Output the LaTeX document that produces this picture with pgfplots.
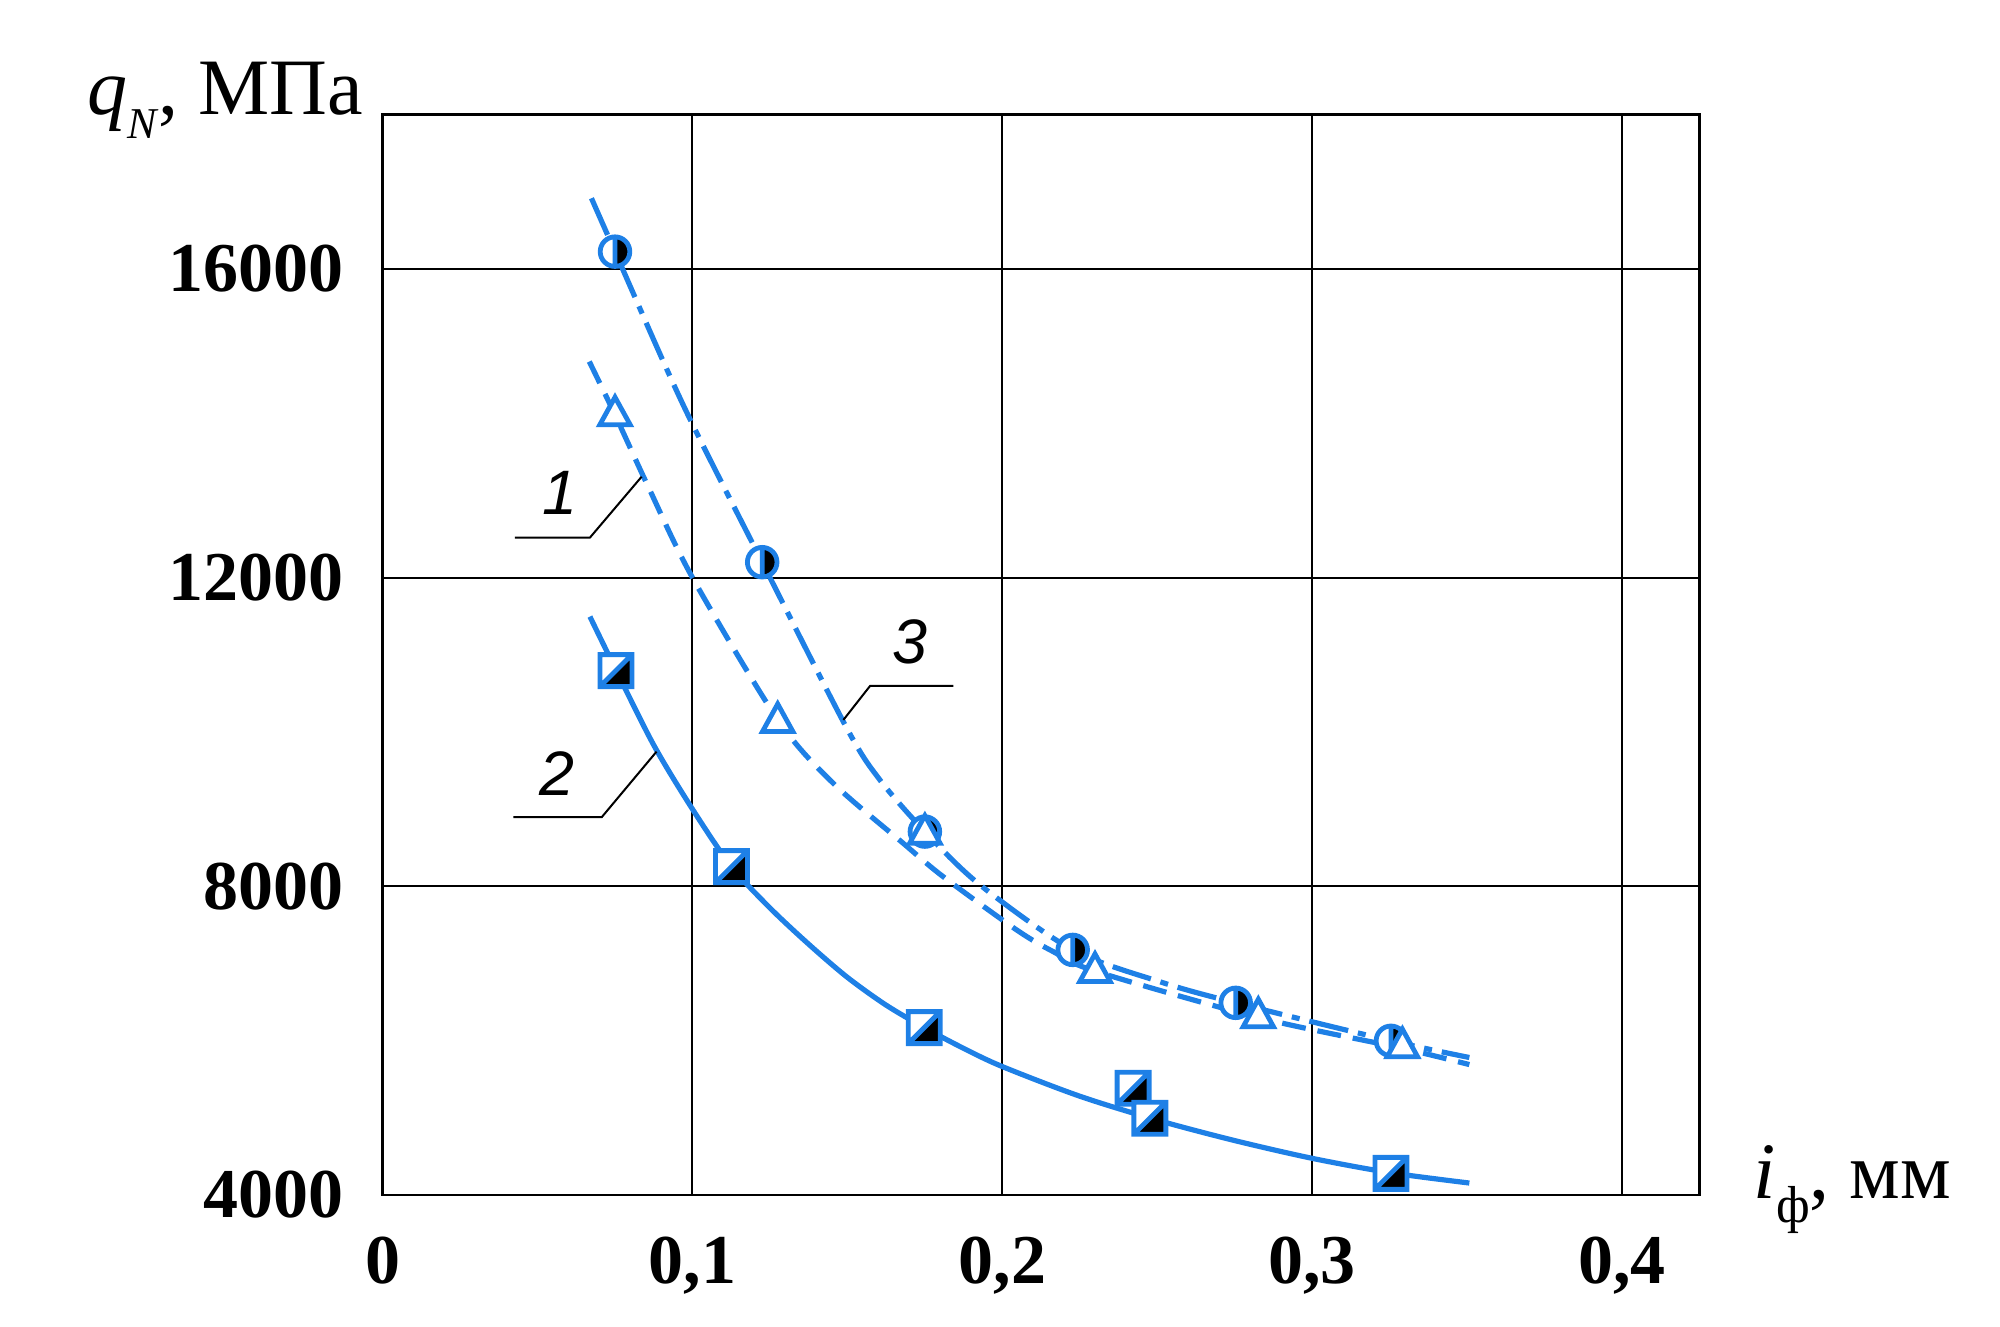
\documentclass[border=0pt]{standalone}
\usepackage{fontspec}
\setmainfont{Liberation Serif}
\newfontfamily\lblfont{Liberation Sans}
\usepackage{pgfplots}
\pgfplotsset{compat=1.18}
\definecolor{cblue}{RGB}{30,128,230}

\pgfdeclareplotmark{hcirc}{%
  \pgfsetfillcolor{white}%
  \pgfpathcircle{\pgfpointorigin}{3.7bp}\pgfusepath{fill}%
  \pgfsetfillcolor{black}%
  \pgfpathmoveto{\pgfpoint{0bp}{3.7bp}}\pgfpatharc{90}{-90}{3.7bp}\pgfpathclose\pgfusepath{fill}%
  \pgfpathcircle{\pgfpointorigin}{3.7bp}%
  \pgfpathmoveto{\pgfpoint{0bp}{3.7bp}}\pgfpathlineto{\pgfpoint{0bp}{-3.7bp}}%
  \pgfusepath{stroke}}
\pgfdeclareplotmark{hsq}{%
  \pgfsetfillcolor{white}%
  \pgfpathrectangle{\pgfpoint{-4bp}{-4bp}}{\pgfpoint{8bp}{8bp}}\pgfusepath{fill}%
  \pgfsetfillcolor{black}%
  \pgfpathmoveto{\pgfpoint{-4bp}{-4bp}}\pgfpathlineto{\pgfpoint{4bp}{-4bp}}%
  \pgfpathlineto{\pgfpoint{4bp}{4bp}}\pgfpathclose\pgfusepath{fill}%
  \pgfpathrectangle{\pgfpoint{-4bp}{-4bp}}{\pgfpoint{8bp}{8bp}}%
  \pgfpathmoveto{\pgfpoint{-4bp}{-4bp}}\pgfpathlineto{\pgfpoint{4bp}{4bp}}%
  \pgfusepath{stroke}}
\pgfdeclareplotmark{otri}{%
  \pgfsetfillcolor{white}%
  \pgfpathmoveto{\pgfpoint{0bp}{4bp}}\pgfpathlineto{\pgfpoint{-3.8bp}{-2.9bp}}%
  \pgfpathlineto{\pgfpoint{3.8bp}{-2.9bp}}\pgfpathclose\pgfusepath{fill,stroke}}

\begin{document}
\begin{tikzpicture}
\path[use as bounding box] (-95.65bp,-33bp) rectangle (404.35bp,298.75bp);
\begin{axis}[at={(0,0)}, anchor=south west, scale only axis,
  width=329.25bp, height=270.1bp,
  xmin=0, xmax=0.425, ymin=4000, ymax=18000,
  scaled x ticks=false, scaled y ticks=false,
  xtick={0,0.1,0.2,0.3,0.4}, xticklabels={0,{0,1},{0,2},{0,3},{0,4}},
  ytick={4000,8000,12000,16000}, yticklabels={4000,8000,12000,16000},
  grid=major, major grid style={black, line width=0.5bp},
  axis line style={black, line width=0.6bp},
  major tick length=0pt,
  ticklabel style={font=\fontsize{17.5bp}{20bp}\selectfont\bfseries, inner sep=0pt},
  xticklabel style={anchor=north, yshift=-10.4bp},
  yticklabel style={anchor=east, xshift=-9.55bp},
  clip=false,
]
% curve 1 (dashed)
\addplot[cblue, line width=1.3bp, smooth, dash pattern=on 6bp off 3bp] coordinates {
 (0.0667,14800) (0.075,14110) (0.0857,13180) (0.1,12000) (0.1275,10160)
 (0.1454,9336) (0.168,8558) (0.1809,8125) (0.2046,7435) (0.2164,7154)
 (0.23,6900) (0.2826,6300) (0.3291,5900) (0.3507,5690)};
% curve 3 (dash-dot)
\addplot[cblue, line width=1.3bp, smooth, dash pattern=on 10bp off 2.5bp on 2bp off 2.5bp] coordinates {
 (0.0674,16916) (0.075,16224) (0.097,14238) (0.1225,12200) (0.1498,10049)
 (0.1605,9378) (0.175,8709) (0.1928,8018) (0.2227,7176) (0.2511,6760)
 (0.2753,6490) (0.3254,5998) (0.3507,5782)};
% curve 2 (solid)
\addplot[cblue, line width=1.3bp, smooth] coordinates {
 (0.0669,11495) (0.075,10830) (0.0875,9830) (0.1,9000) (0.1125,8260)
 (0.125,7720) (0.1375,7250) (0.15,6820) (0.1625,6460) (0.175,6165)
 (0.1875,5900) (0.2,5664) (0.225,5280) (0.25,4970) (0.275,4705)
 (0.3,4475) (0.325,4290) (0.3507,4155)};
% markers
\addplot[only marks, mark=hsq, mark options={draw=cblue, line width=1.2bp, solid}] coordinates {
 (0.0753,10795) (0.1126,8255) (0.1748,6169) (0.2422,5384) (0.2476,4995) (0.3254,4280)};
\addplot[only marks, mark=hcirc, mark options={draw=cblue, line width=1.2bp, solid}] coordinates {
 (0.0750,16224) (0.1225,12200) (0.175,8709) (0.2227,7176) (0.2753,6490) (0.3254,5998)};
\addplot[only marks, mark=otri, mark options={draw=cblue, line width=1.2bp, solid}] coordinates {
 (0.0750,14131) (0.1275,10156) (0.175,8709) (0.2299,6917) (0.2826,6330) (0.3291,5942)};
% leader lines and curve numbers
\draw[black, line width=0.5bp] (axis cs:0.0427,12518) -- (axis cs:0.0669,12518) -- (axis cs:0.0836,13308);
\draw[black, line width=0.5bp] (axis cs:0.0422,8895) -- (axis cs:0.0707,8895) -- (axis cs:0.0884,9745);
\draw[black, line width=0.5bp] (axis cs:0.1487,10156) -- (axis cs:0.1573,10596) -- (axis cs:0.1842,10596);
\node[font=\lblfont\itshape\fontsize{15.7bp}{18bp}\selectfont, inner sep=0pt] at (axis cs:0.0572,13093) {1};
\node[font=\lblfont\itshape\fontsize{15.7bp}{18bp}\selectfont, inner sep=0pt] at (axis cs:0.0562,9465) {2};
\node[font=\lblfont\itshape\fontsize{15.7bp}{18bp}\selectfont, inner sep=0pt] at (axis cs:0.1702,11170) {3};
% axis labels
\node[anchor=base east, inner sep=0pt, xshift=-4.7bp, font=\fontsize{20bp}{24bp}\selectfont]
  at (rel axis cs:0,1) {\textit{q}{\fontsize{11bp}{11bp}\selectfont\raisebox{-6bp}{\textit{N}}}, МПа};
\node[anchor=base west, inner sep=0pt, xshift=13.4bp, yshift=-0.75bp, font=\fontsize{20bp}{24bp}\selectfont]
  at (rel axis cs:1,0) {\textit{i}{\fontsize{13bp}{13bp}\selectfont\raisebox{-6bp}{ф}}, мм};
\end{axis}
\end{tikzpicture}
\end{document}
